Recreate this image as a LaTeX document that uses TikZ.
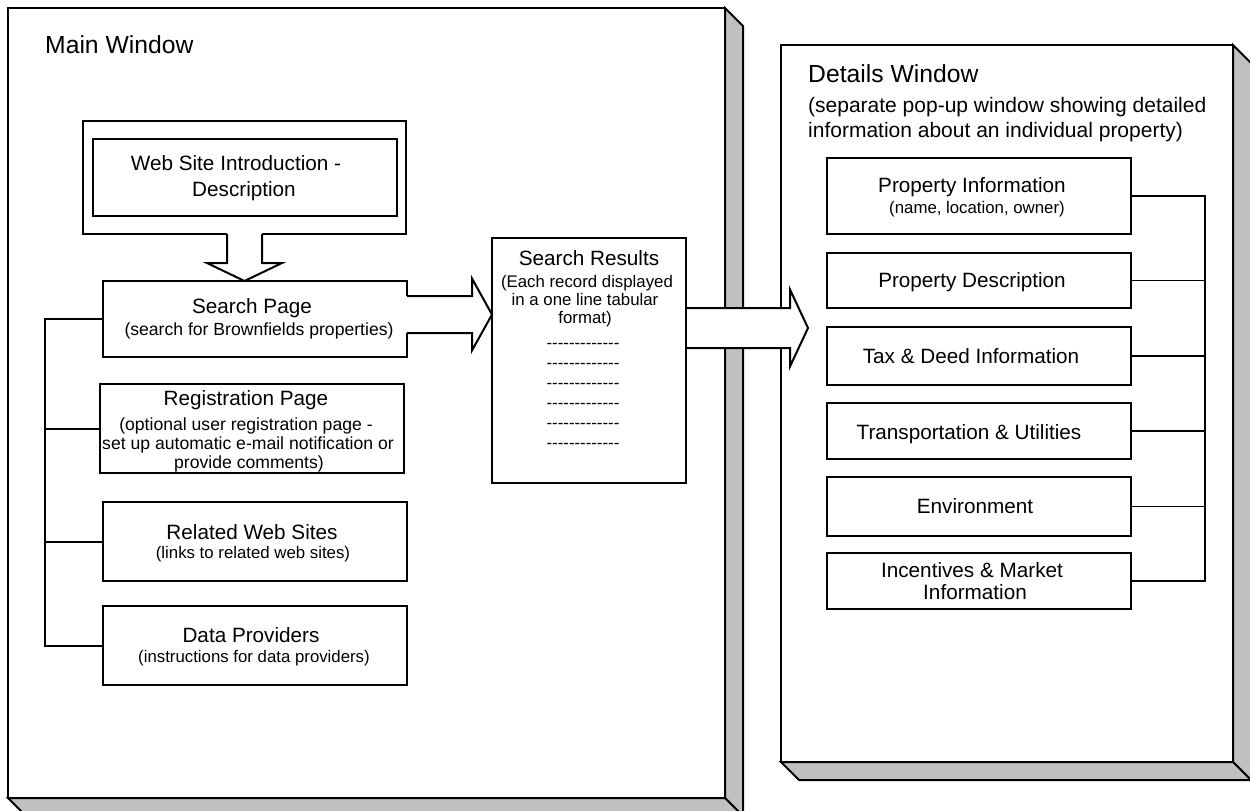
\documentclass[tikz,border=0pt]{standalone}
\usepackage{fontspec}
\setmainfont{Liberation Sans}
\newfontfamily\plainsans{Liberation Sans}
\usetikzlibrary{calc}
\definecolor{shade}{HTML}{C0C0C0}
\newcommand\fsz[2]{\fontsize{#1}{#2}\selectfont}
\newcommand\hy{-\kern0pt}
\newcommand\dashrow{{\plainsans\hy\hy\hy\hy\hy\hy\hy\hy\hy\hy\hy\hy-}}
\begin{document}
\begin{tikzpicture}[x=1pt,y=-1pt,
  win/.style={draw, line width=2pt, fill=white, inner sep=0pt, outer sep=0pt},
  box/.style={draw, line width=2pt, fill=white, inner sep=0pt, outer sep=0pt, minimum width=304pt},
  shd/.style={fill=shade, draw, line width=2pt, line join=miter},
  blk/.style={line width=2pt, line join=miter},
  conn/.style={line width=2pt},
  thinconn/.style={line width=1.5pt},
  big/.style={font=\fsz{24.7}{28}, inner sep=0pt, anchor=base west},
  note/.style={font=\fsz{21}{25}, inner sep=0pt, anchor=base west},
  ttl/.style={font=\fsz{20.7}{24}, inner sep=0pt, anchor=base},
  sub/.style={font=\fsz{16.8}{19}, inner sep=0pt, anchor=base},
  subl/.style={font=\fsz{17.6}{19}, inner sep=0pt, anchor=base},
]
\useasboundingbox (0,0) rectangle (1250,811);
\fill[white] (0,0) rectangle (1250,811);

% ---------- windows ----------
\node[win, minimum width=717pt, minimum height=790pt] (mw) at (366.5,403) {};
\filldraw[shd] (mw.north east) -- ++(18,18) -- ($(mw.south east)+(18,18)$) -- (mw.south east) -- cycle;
\filldraw[shd] (mw.south west) -- ++(18,18) -- ($(mw.south east)+(18,18)$) -- (mw.south east) -- cycle;

\node[win, minimum width=452pt, minimum height=717pt] (dw) at (1007,403.5) {};
\filldraw[shd] (dw.north east) -- ++(18,18) -- ($(dw.south east)+(18,18)$) -- (dw.south east) -- cycle;
\filldraw[shd] (dw.south west) -- ++(18,18) -- ($(dw.south east)+(18,18)$) -- (dw.south east) -- cycle;

\node[big] (mwt) at (45,53) {Main Window};
\node[big] (dwt) at (808,82) {Details Window};
\node[note] (dws1) at (808,112) {(separate pop-up window showing detailed};
\node[note] (dws2) at (808,137) {information about an individual property)};

% ---------- main window boxes ----------
\node[box, minimum width=323pt, minimum height=113pt] (wo) at (244.5,177.5) {};
\node[box, minimum height=77pt] (wi) at (245,177.5) {};
\node[ttl] (wi1) at (236,170) {Web Site Introduction -};
\node[ttl] (wi2) at (244,196) {Description};

\node[box, minimum height=76pt] (sp) at (255,319) {};
\node[ttl] (sp1) at (252,313) {Search Page};
\node[subl] (sp2) at (259,335) {(search for Brownfields properties)};

\node[box, minimum height=89pt] (rp) at (252,428.5) {};
\node[ttl] (rp1) at (246,405) {Registration Page};
\node[subl] (rp2) at (246,430) {(optional user registration page -};
\node[subl] (rp3) at (248,449) {set up automatic e-mail notification or};
\node[subl] (rp4) at (249,468) {provide comments)};

\node[box, minimum height=79pt] (rw) at (255,541.5) {};
\node[ttl] (rw1) at (252,539) {Related Web Sites};
\node[sub] (rw2) at (253,558) {(links to related web sites)};

\node[box, minimum height=79pt] (dp) at (255,645.5) {};
\node[ttl] (dp1) at (251,642) {Data Providers};
\node[sub] (dp2) at (254,662) {(instructions for data providers)};

\node[box, minimum width=194pt, minimum height=245pt] (sr) at (589,360.5) {};
\node[ttl] (sr1) at (589,265) {Search Results};
\node[sub] (sr2) at (587,287) {(Each record displayed};
\node[sub] (sr3) at (585,305) {in a one line tabular};
\node[sub] (sr4) at (585,323) {format)};
\foreach \i in {0,...,5}{
  \node[sub] (dash\i) at (583,348+20*\i) {\dashrow};
}

% left tree connectors
\coordinate (lbus) at (45,0);
\draw[conn] (sp.west) -- (sp.west -| lbus) -- (dp.west -| lbus) -- (dp.west);
\draw[conn] (rp.west) -- (rp.west -| lbus);
\draw[conn] (rw.west) -- (rw.west -| lbus);

% block arrow: intro -> search page
\coordinate (a0s) at (wo.south);
\coordinate (a0e) at (a0s |- sp.north);
\fill[white] ($(a0s)+(-17.5,-1.6)$) -- ($(a0e)+(-17.5,-18)$) -- ($(a0e)+(-37.5,-18)$) -- (a0e)
  -- ($(a0e)+(37.5,-18)$) -- ($(a0e)+(17.5,-18)$) -- ($(a0s)+(17.5,-1.6)$) -- cycle;
\draw[blk] ($(a0s)+(-17.5,0)$) -- ($(a0e)+(-17.5,-18)$) -- ($(a0e)+(-37.5,-18)$) -- (a0e)
  -- ($(a0e)+(37.5,-18)$) -- ($(a0e)+(17.5,-18)$) -- ($(a0s)+(17.5,0)$);

% block arrow: search page -> search results
\coordinate (a1s) at ($(sp.east)+(0,-4.5)$);
\coordinate (a1e) at (sr.west |- a1s);
\fill[white] ($(a1s)+(-1.6,-18.5)$) -- ($(a1e)+(-20,-18.5)$) -- ($(a1e)+(-20,-36)$) -- (a1e)
  -- ($(a1e)+(-20,36)$) -- ($(a1e)+(-20,18.5)$) -- ($(a1s)+(-1.6,18.5)$) -- cycle;
\draw[blk] ($(a1s)+(0,-18.5)$) -- ($(a1e)+(-20,-18.5)$) -- ($(a1e)+(-20,-36)$) -- (a1e)
  -- ($(a1e)+(-20,36)$) -- ($(a1e)+(-20,18.5)$) -- ($(a1s)+(0,18.5)$);

% ---------- details window boxes ----------
\node[box, minimum height=76pt] (pi) at (979,196) {};
\node[ttl] (pi1) at (972,192) {Property Information};
\node[sub] (pi2) at (977,213) {(name, location, owner)};

\node[box, minimum height=55pt] (pd) at (979,280.5) {};
\node[ttl] (pd1) at (972,287) {Property Description};

\node[box, minimum height=58pt] (tx) at (979,356) {};
\node[ttl] (tx1) at (971,363) {Tax \& Deed Information};

\node[box, minimum height=56pt] (tu) at (979,431) {};
\node[ttl] (tu1) at (969,439) {Transportation \& Utilities};

\node[box, minimum height=59pt] (en) at (979,506.5) {};
\node[ttl] (en1) at (975,513) {Environment};

\node[box, minimum height=56pt] (ic) at (979,581) {};
\node[ttl] (ic1) at (972,577) {Incentives \& Market};
\node[ttl] (ic2) at (975,599) {Information};

% right tree connectors
\coordinate (rbus) at (1205,0);
\draw[thinconn] (pi.east) -- (pi.east -| rbus) -- (ic.east -| rbus) -- (ic.east);
\draw[thinconn] (pd.east) -- (pd.east -| rbus);
\draw[thinconn] (tx.east) -- (tx.east -| rbus);
\draw[thinconn] (tu.east) -- (tu.east -| rbus);
\draw[thinconn] (en.east) -- (en.east -| rbus);

% block arrow: search results -> details window
\coordinate (a2s) at ($(sr.east)+(0,-32.5)$);
\coordinate (a2e) at ($(dw.west |- a2s)+(27,0)$);
\fill[white] ($(a2s)+(1,-20)$) -- ($(a2e)+(-18,-20)$) -- ($(a2e)+(-18,-38.5)$) -- (a2e)
  -- ($(a2e)+(-18,38.5)$) -- ($(a2e)+(-18,20)$) -- ($(a2s)+(1,20)$) -- cycle;
\draw[blk] ($(a2s)+(0,-20)$) -- ($(a2e)+(-18,-20)$) -- ($(a2e)+(-18,-38.5)$) -- (a2e)
  -- ($(a2e)+(-18,38.5)$) -- ($(a2e)+(-18,20)$) -- ($(a2s)+(0,20)$);
\end{tikzpicture}
\end{document}
